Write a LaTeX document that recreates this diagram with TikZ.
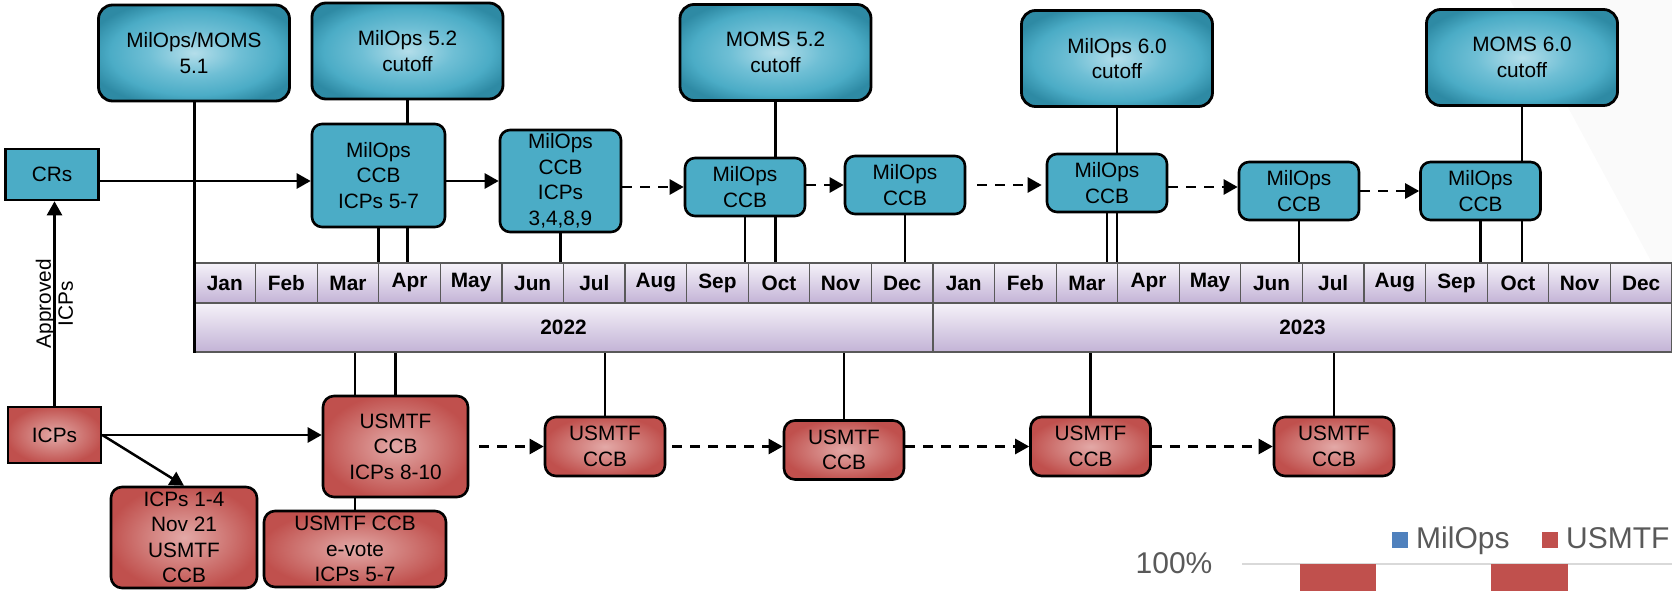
\documentclass[tikz,border=0pt]{standalone}
\usepackage{fontspec}
\setmainfont{Liberation Sans}
\usepackage{xcolor}
\usepackage{tikz}
\usetikzlibrary{arrows.meta,positioning,calc}

\definecolor{tealbox}{HTML}{4BACC6}
\definecolor{tealhi}{HTML}{B4DEEA}
\definecolor{tealmid}{HTML}{6FBFD5}
\definecolor{tealdk}{HTML}{2E8AA4}
\definecolor{redbox}{HTML}{C0504D}
\definecolor{redhi}{HTML}{E3A9A7}
\definecolor{redmid}{HTML}{D07A77}
\definecolor{lavtop}{HTML}{F5F2F9}
\definecolor{lavbot}{HTML}{C3B3D6}
\definecolor{legblue}{HTML}{4F81BD}
\definecolor{chartgray}{HTML}{595959}

\pgfdeclareradialshading{cutglow}{\pgfpoint{0bp}{0bp}}{color(0bp)=(tealhi); color(12bp)=(tealmid); color(22bp)=(tealbox); color(29bp)=(tealdk); color(50bp)=(tealdk)}
\pgfdeclareradialshading{redglow}{\pgfpoint{0bp}{0bp}}{color(0bp)=(redhi); color(14bp)=(redmid); color(26bp)=(redbox); color(50bp)=(redbox)}

\begin{document}
\begin{tikzpicture}[
    % GLOBAL CFG
    x=1pt, y=-1pt,
    font=\fontsize{20.8}{25.5}\selectfont,
    >={Triangle[length=14pt,width=15pt]},
    % Styles
    cutoff/.style={% release cutoff boxes on top
        rectangle,
        rounded corners=14pt,
        draw,
        line width=2.8pt,
        shading=cutglow,
        align=center,
        inner sep=0pt,
        minimum width=191pt,
        minimum height=96pt,
        },
    ccb/.style={% MilOps CCB boxes
        rectangle,
        rounded corners=10pt,
        draw,
        line width=2.6pt,
        fill=tealbox,
        align=center,
        inner sep=0pt,
        minimum width=120pt,
        minimum height=58pt,
        },
    usmtf/.style={% USMTF boxes
        rectangle,
        rounded corners=11pt,
        draw,
        line width=2.6pt,
        shading=redglow,
        align=center,
        inner sep=0pt,
        minimum width=120pt,
        minimum height=59pt,
        },
    source/.style={% CRs and ICPs inputs
        rectangle,
        draw,
        line width=2.6pt,
        minimum width=93pt,
        },
    month/.style={% month cells
        rectangle,
        draw=black!65,
        line width=1.2pt,
        top color=lavtop,
        bottom color=lavbot,
        minimum width=61.58pt,
        minimum height=40pt,
        font=\fontsize{20.8}{25}\selectfont\bfseries,
        },
    yearbar/.style={% year cells
        month,
        minimum width=739pt,
        minimum height=49pt,
        },
    link/.style={% plain vertical links
        line width=2.2pt,
        },
    flow/.style={% arrows
        ->,
        line width=2.5pt,
        },
    flowdash/.style={% dashed arrows
        flow,
        dash pattern=on 10pt off 8pt,
        },
    ]

    \useasboundingbox (0,0) rectangle (1672,591);
    \clip (0,0) rectangle (1672,591);

    % faint background corner
    \fill[gray!4] (1510,0) -- (1672,0) -- (1672,300) -- cycle;

    % Draw the timeline
    \foreach \mon [count=\i] in {Jan,Feb,Mar,Apr,May,Jun,Jul,Aug,Sep,Oct,Nov,Dec,Jan,Feb,Mar,Apr,May,Jun,Jul,Aug,Sep,Oct,Nov,Dec}
        \node[month] (m\i) at ({194+(\i-0.5)*61.58},283) {\mon};
    \node[yearbar] (y2022) at (563.5,327.5) {2022};
    \node[yearbar] (y2023) at (1302.5,327.5) {2023};

    % Draw the cutoff boxes
    \node[cutoff] (rel51) at (194,53) {MilOps/MOMS\\5.1};
    \node[cutoff] (milops52) at (407.5,51) {MilOps 5.2\\cutoff};
    \node[cutoff] (moms52) at (775.5,52.5) {MOMS 5.2\\cutoff};
    \node[cutoff] (milops60) at (1117,58.5) {MilOps 6.0\\cutoff};
    \node[cutoff] (moms60) at (1522,57.5) {MOMS 6.0\\cutoff};

    % Draw the MilOps CCBs
    \node[source, fill=tealbox, minimum height=51pt] (CRs) at (52,174.5) {CRs};
    \node[ccb, minimum width=133pt, minimum height=103pt] (ccbA) at (378.5,175.5) {MilOps\\CCB\\ICPs 5-7};
    \node[ccb, minimum width=121pt, minimum height=102pt] (ccbB) at (560.5,181) {MilOps\\CCB\\ICPs\\3,4,8,9};
    \node[ccb] (ccbC) at (745,187) {MilOps\\CCB};
    \node[ccb] (ccbD) at (905,185) {MilOps\\CCB};
    \node[ccb] (ccbE) at (1107,183) {MilOps\\CCB};
    \node[ccb] (ccbF) at (1299,191) {MilOps\\CCB};
    \node[ccb] (ccbG) at (1480.5,191) {MilOps\\CCB};

    % Draw the USMTF CCBs
    \node[source, shading=redglow, minimum height=56pt] (ICPs) at (54.5,435) {ICPs};
    \node[usmtf, minimum width=145pt, minimum height=101pt] (usA) at (395.5,446.5) {USMTF\\CCB\\ICPs 8-10};
    \node[usmtf, minimum width=146pt, minimum height=101pt] (usB) at (184,537.5) {ICPs 1-4\\Nov 21\\USMTF\\CCB};
    \node[usmtf, minimum width=182pt, minimum height=76pt] (usC) at (355,549) {USMTF CCB\\e-vote\\ICPs 5-7};
    \node[usmtf] (usD) at (605,446.5) {USMTF\\CCB};
    \node[usmtf] (usE) at (844,450) {USMTF\\CCB};
    \node[usmtf] (usF) at (1090.5,446.5) {USMTF\\CCB};
    \node[usmtf] (usG) at (1334,446.5) {USMTF\\CCB};

    % Links to the timeline (top)
    \draw[link, line width=3pt] (rel51.south) -- (rel51.south |- y2022.south);
    \draw[link] (milops52.south) -- (milops52.south |- ccbA.north);
    \draw[link] (milops52.south |- ccbA.south) -- (milops52.south |- m4.north);
    \draw[link] (ccbA.south) -- (ccbA.south |- m3.north);
    \draw[link] (ccbB.south) -- (ccbB.south |- m6.north);
    \draw[link] (moms52.south) -- (moms52.south |- ccbC.north);
    \draw[link] (moms52.south |- ccbC.south) -- (moms52.south |- m10.north);
    \draw[link] (ccbC.south) -- (ccbC.south |- m9.north);
    \draw[link] (ccbD.south) -- (ccbD.south |- m12.north);
    \draw[link] (milops60.south) -- (milops60.south |- ccbE.north);
    \draw[link] (milops60.south |- ccbE.south) -- (milops60.south |- m16.north);
    \draw[link] (ccbE.south) -- (ccbE.south |- m15.north);
    \draw[link] (ccbF.south) -- (ccbF.south |- m18.north);
    \draw[link] (moms60.south) -- (moms60.south |- ccbG.north);
    \draw[link] (moms60.south |- ccbG.south) -- (moms60.south |- m22.north);
    \draw[link] (ccbG.south) -- (ccbG.south |- m21.north);

    % Links to the timeline (bottom)
    \draw[link] (usA.north) -- (usA.north |- y2022.south);
    \draw[link] (usC.north |- y2022.south) -- (usC.north |- usA.north);
    \draw[link] (usC.north |- usA.south) -- (usC.north);
    \draw[link] (usD.north) -- (usD.north |- y2022.south);
    \draw[link] (usE.north) -- (usE.north |- y2022.south);
    \draw[link] (usF.north) -- (usF.north |- y2023.south);
    \draw[link] (usG.north) -- (usG.north |- y2023.south);

    % Arrows MilOps
    \draw[flow] ([yshift=-6.5pt]CRs.east) -- ([yshift=-6.5pt]CRs.east -| ccbA.west);
    \draw[flow] (ccbA.east |- ccbB) -- (ccbB.west);
    \draw[flowdash] (ccbB.east |- ccbC) -- (ccbC.west);
    \draw[flowdash] (ccbC.east |- ccbD) -- (ccbD.west);
    \draw[flowdash, shorten <=11pt, shorten >=4pt] (ccbD.east) -- (ccbD.east -| ccbE.west);
    \draw[flowdash] ($(ccbE.east)!0.5!(ccbE.east |- ccbF)$) -- ($(ccbF.west)!0.5!(ccbF.west |- ccbE)$);
    \draw[flowdash] (ccbF.east) -- (ccbG.west);

    % Arrows USMTF
    \draw[flow] (ICPs.north) -- (ICPs.north |- CRs.south)
        node[midway, rotate=90, align=center, font=\fontsize{20.8}{22}\selectfont] {Approved\\ICPs};
    \draw[flow] (ICPs.east) -- (ICPs.east -| usA.west);
    \draw[flow] (ICPs.east) -- (usB.north);
    \draw[flowdash, shorten <=10pt] (usA.east) -- (usD.west);
    \draw[flowdash, shorten <=6pt] (usD.east) -- (usD.east -| usE.west);
    \draw[flowdash] (usE.east |- usF) -- (usF.west);
    \draw[flowdash] (usF.east) -- (usG.west);

    % Chart fragment at the bottom right
    \draw[gray!30, line width=2pt] (1242,564) -- (1672,564);
    \fill[redbox] (1300,564) rectangle (1376,600);
    \fill[redbox] (1491,564) rectangle (1568,600);
    \node[anchor=base, text=chartgray, font=\fontsize{30}{34}\selectfont] (pct) at (1174,573) {100\%};
    \fill[legblue] (1392,532) rectangle (1408,548);
    \node[anchor=base west, inner sep=0pt, text=chartgray, font=\fontsize{30}{34}\selectfont] (legMil) at (1416,548) {MilOps};
    \fill[redbox] (1542,532) rectangle (1558,548);
    \node[anchor=base west, inner sep=0pt, text=chartgray, font=\fontsize{30}{34}\selectfont] (legUs) at (1566,548) {USMTF};

\end{tikzpicture}
\end{document}
